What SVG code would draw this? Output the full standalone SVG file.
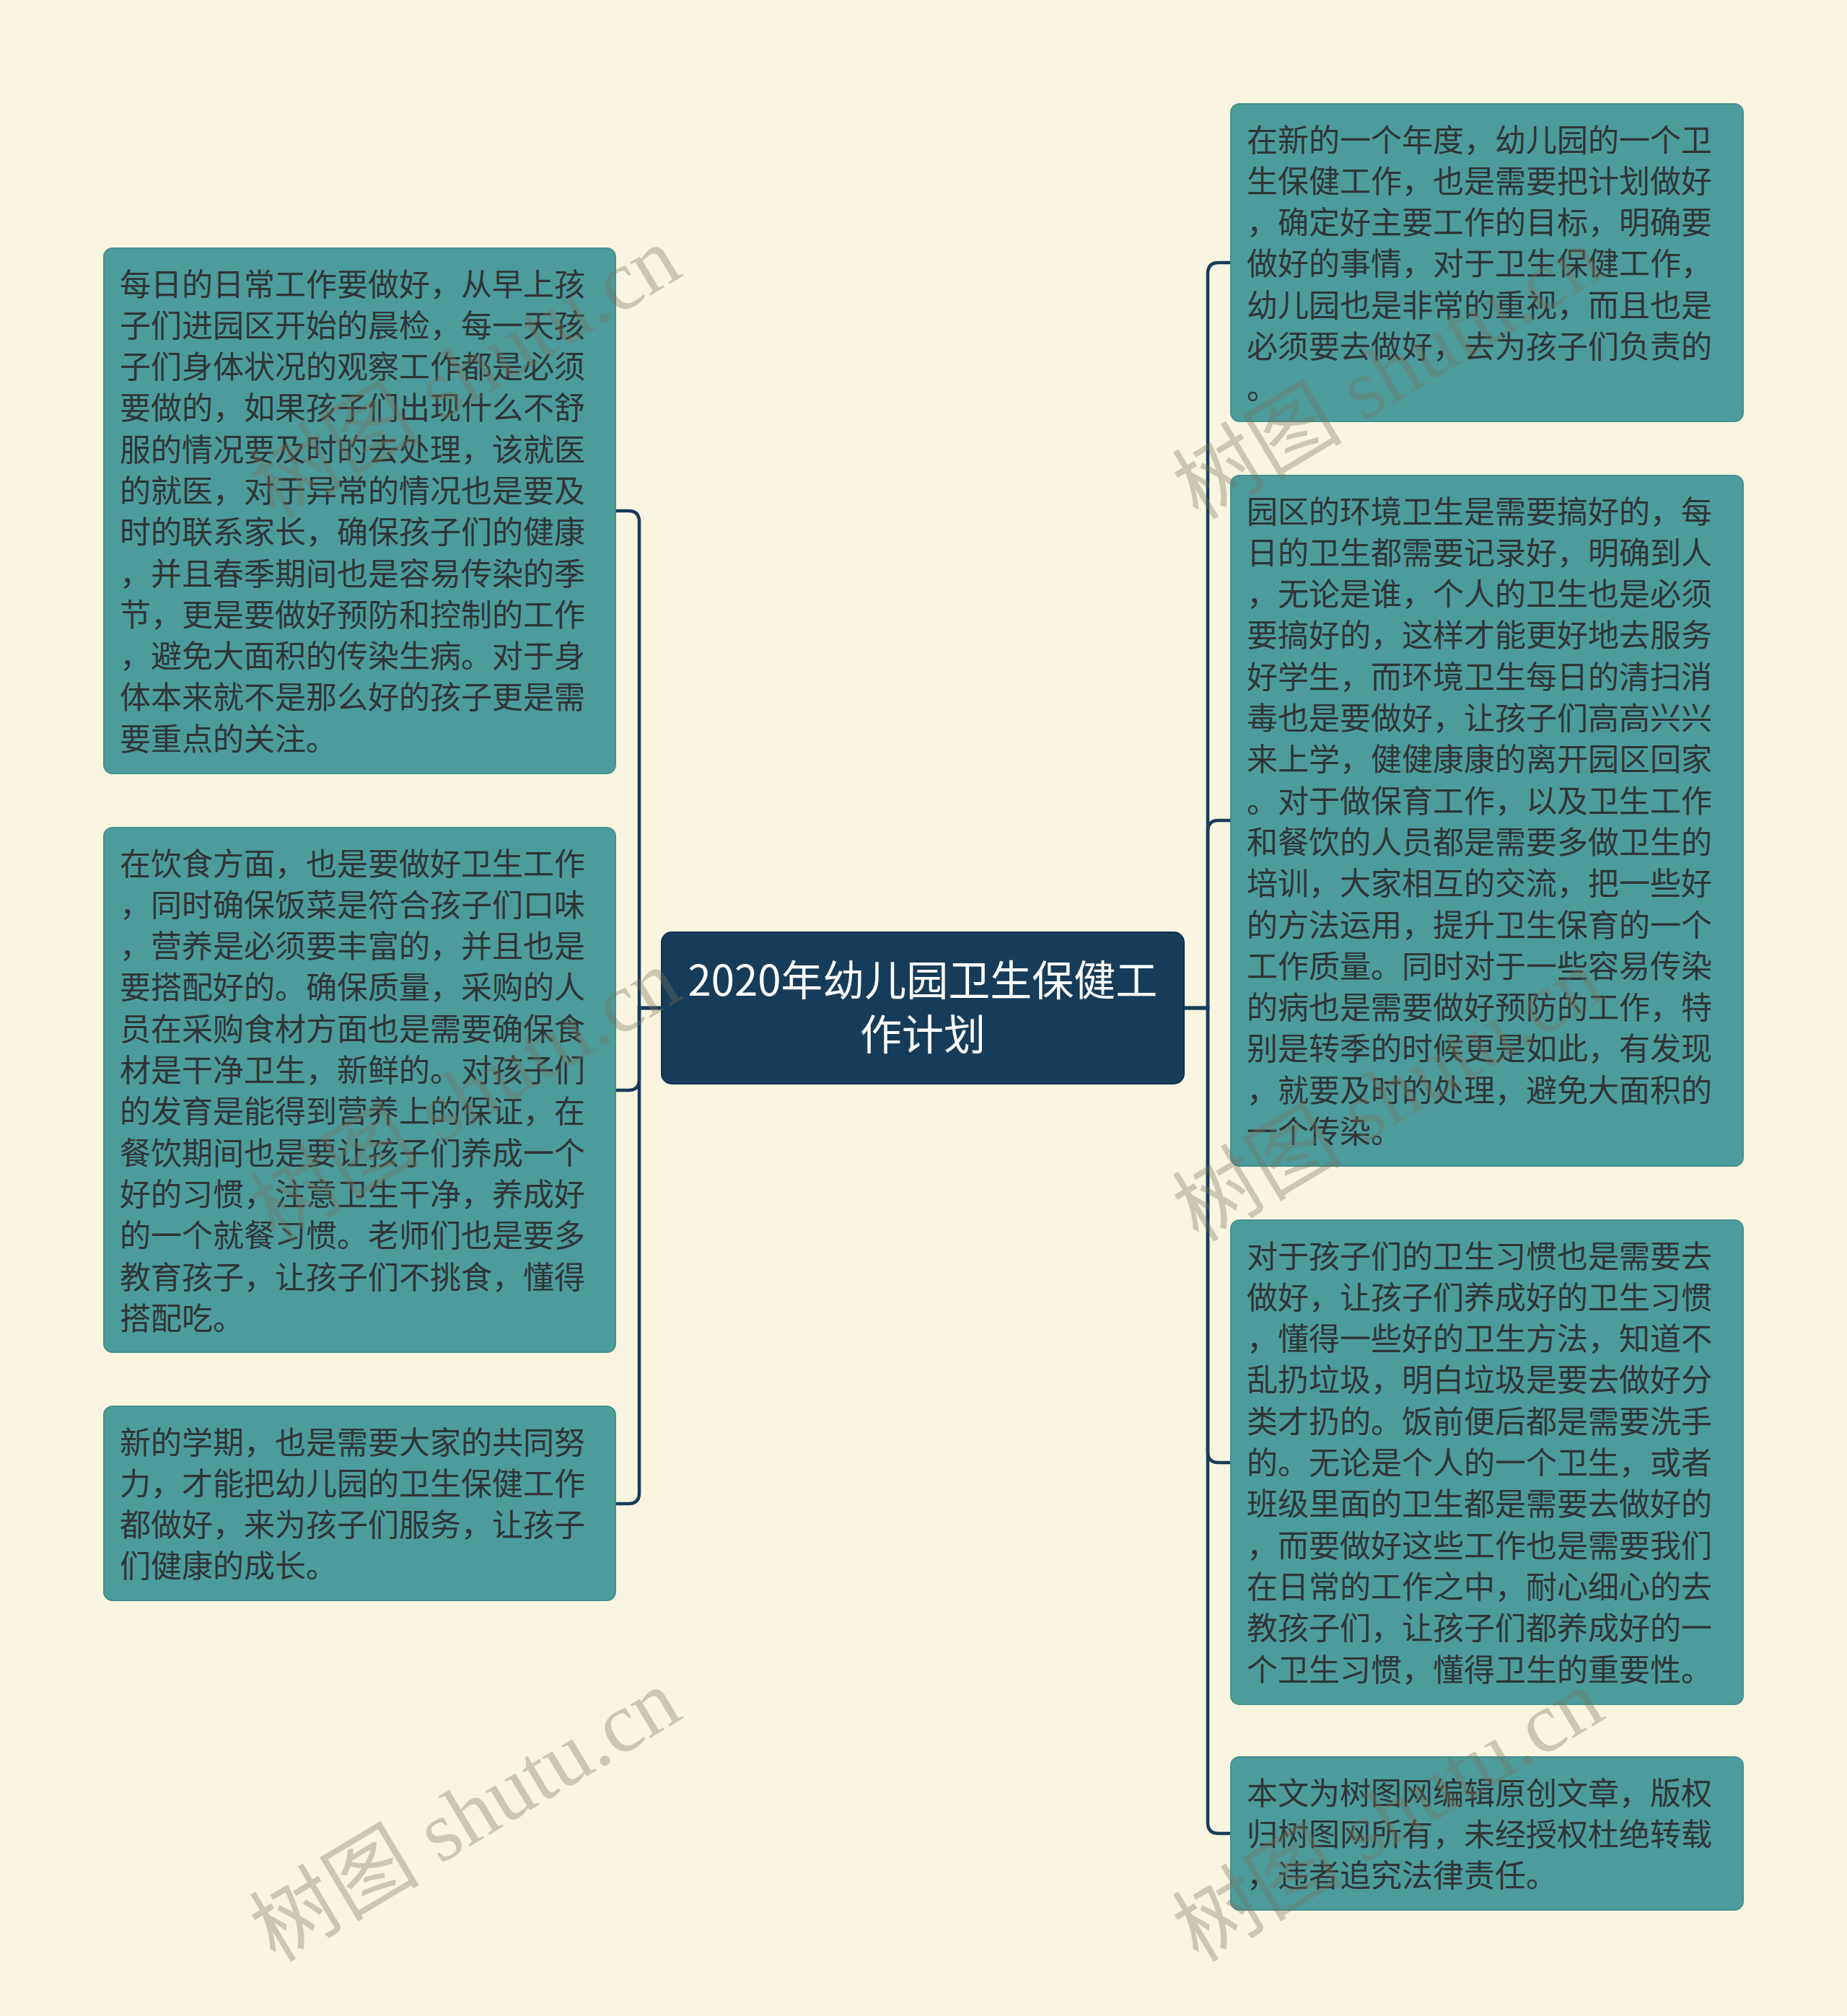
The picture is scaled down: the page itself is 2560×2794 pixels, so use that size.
<svg xmlns="http://www.w3.org/2000/svg" width="2560" height="2794" viewBox="0 0 2560 2794">
<style>
.bg{fill:#f9f5e1}
.node rect{fill:#4d9c9c;stroke:#44908f;stroke-width:2}
.node text{font-family:"Noto Sans CJK SC","Noto Sans",sans-serif;font-size:43px;fill:#2f3535}
.root rect{fill:#173c5a;stroke:#10304a;stroke-width:2}
.root text{font-family:"Noto Sans CJK SC","Noto Sans",sans-serif;font-size:58px;fill:#ffffff;text-anchor:middle}
.links path{fill:none;stroke:#173c5a;stroke-width:4.5}
.wm{font-family:"Liberation Serif","Noto Sans CJK SC",serif;font-size:118px;fill:#78735a;opacity:0.35;text-anchor:middle}
</style>
<rect class="bg" x="0" y="0" width="2560" height="2794"/>
<g class="links" id="connectors">
<path d="M917,1397 H886 V723 Q886,708 871,708 H853"/>
<path d="M917,1397 H886 V1496 Q886,1511 871,1511 H853"/>
<path d="M917,1397 H886 V2069 Q886,2084 871,2084 H853"/>
<path d="M1641,1397 H1674 V379 Q1674,364 1689,364 H1706"/>
<path d="M1641,1397 H1674 V1152 Q1674,1137 1689,1137 H1706"/>
<path d="M1641,1397 H1674 V2012 Q1674,2027 1689,2027 H1706"/>
<path d="M1641,1397 H1674 V2526 Q1674,2541 1689,2541 H1706"/>
</g>
<g class="root" id="root">
<rect x="917" y="1292" width="724" height="210" rx="14"/>
<text x="1279" y="1380"><tspan x="1279">2020年幼儿园卫生保健工</tspan><tspan x="1279" dy="75">作计划</tspan></text>
</g>
<g class="node" id="left1">
<rect x="144" y="344" width="709" height="728" rx="12"/>
<text x="166" y="409.5"><tspan x="166">每日的日常工作要做好，从早上孩</tspan><tspan x="166" dy="57.3">子们进园区开始的晨检，每一天孩</tspan><tspan x="166" dy="57.3">子们身体状况的观察工作都是必须</tspan><tspan x="166" dy="57.3">要做的，如果孩子们出现什么不舒</tspan><tspan x="166" dy="57.3">服的情况要及时的去处理，该就医</tspan><tspan x="166" dy="57.3">的就医，对于异常的情况也是要及</tspan><tspan x="166" dy="57.3">时的联系家长，确保孩子们的健康</tspan><tspan x="166" dy="57.3">，并且春季期间也是容易传染的季</tspan><tspan x="166" dy="57.3">节，更是要做好预防和控制的工作</tspan><tspan x="166" dy="57.3">，避免大面积的传染生病。对于身</tspan><tspan x="166" dy="57.3">体本来就不是那么好的孩子更是需</tspan><tspan x="166" dy="57.3">要重点的关注。</tspan></text>
</g>
<g class="node" id="left2">
<rect x="144" y="1147" width="709" height="727" rx="12"/>
<text x="166" y="1212.5"><tspan x="166">在饮食方面，也是要做好卫生工作</tspan><tspan x="166" dy="57.3">，同时确保饭菜是符合孩子们口味</tspan><tspan x="166" dy="57.3">，营养是必须要丰富的，并且也是</tspan><tspan x="166" dy="57.3">要搭配好的。确保质量，采购的人</tspan><tspan x="166" dy="57.3">员在采购食材方面也是需要确保食</tspan><tspan x="166" dy="57.3">材是干净卫生，新鲜的。对孩子们</tspan><tspan x="166" dy="57.3">的发育是能得到营养上的保证，在</tspan><tspan x="166" dy="57.3">餐饮期间也是要让孩子们养成一个</tspan><tspan x="166" dy="57.3">好的习惯，注意卫生干净，养成好</tspan><tspan x="166" dy="57.3">的一个就餐习惯。老师们也是要多</tspan><tspan x="166" dy="57.3">教育孩子，让孩子们不挑食，懂得</tspan><tspan x="166" dy="57.3">搭配吃。</tspan></text>
</g>
<g class="node" id="left3">
<rect x="144" y="1949" width="709" height="269" rx="12"/>
<text x="166" y="2014.5"><tspan x="166">新的学期，也是需要大家的共同努</tspan><tspan x="166" dy="57.3">力，才能把幼儿园的卫生保健工作</tspan><tspan x="166" dy="57.3">都做好，来为孩子们服务，让孩子</tspan><tspan x="166" dy="57.3">们健康的成长。</tspan></text>
</g>
<g class="node" id="right1">
<rect x="1706" y="144" width="710" height="440" rx="12"/>
<text x="1728" y="209.5"><tspan x="1728">在新的一个年度，幼儿园的一个卫</tspan><tspan x="1728" dy="57.3">生保健工作，也是需要把计划做好</tspan><tspan x="1728" dy="57.3">，确定好主要工作的目标，明确要</tspan><tspan x="1728" dy="57.3">做好的事情，对于卫生保健工作，</tspan><tspan x="1728" dy="57.3">幼儿园也是非常的重视，而且也是</tspan><tspan x="1728" dy="57.3">必须要去做好，去为孩子们负责的</tspan><tspan x="1728" dy="57.3">。</tspan></text>
</g>
<g class="node" id="right2">
<rect x="1706" y="659" width="710" height="957" rx="12"/>
<text x="1728" y="724.5"><tspan x="1728">园区的环境卫生是需要搞好的，每</tspan><tspan x="1728" dy="57.3">日的卫生都需要记录好，明确到人</tspan><tspan x="1728" dy="57.3">，无论是谁，个人的卫生也是必须</tspan><tspan x="1728" dy="57.3">要搞好的，这样才能更好地去服务</tspan><tspan x="1728" dy="57.3">好学生，而环境卫生每日的清扫消</tspan><tspan x="1728" dy="57.3">毒也是要做好，让孩子们高高兴兴</tspan><tspan x="1728" dy="57.3">来上学，健健康康的离开园区回家</tspan><tspan x="1728" dy="57.3">。对于做保育工作，以及卫生工作</tspan><tspan x="1728" dy="57.3">和餐饮的人员都是需要多做卫生的</tspan><tspan x="1728" dy="57.3">培训，大家相互的交流，把一些好</tspan><tspan x="1728" dy="57.3">的方法运用，提升卫生保育的一个</tspan><tspan x="1728" dy="57.3">工作质量。同时对于一些容易传染</tspan><tspan x="1728" dy="57.3">的病也是需要做好预防的工作，特</tspan><tspan x="1728" dy="57.3">别是转季的时候更是如此，有发现</tspan><tspan x="1728" dy="57.3">，就要及时的处理，避免大面积的</tspan><tspan x="1728" dy="57.3">一个传染。</tspan></text>
</g>
<g class="node" id="right3">
<rect x="1706" y="1691" width="710" height="671" rx="12"/>
<text x="1728" y="1756.5"><tspan x="1728">对于孩子们的卫生习惯也是需要去</tspan><tspan x="1728" dy="57.3">做好，让孩子们养成好的卫生习惯</tspan><tspan x="1728" dy="57.3">，懂得一些好的卫生方法，知道不</tspan><tspan x="1728" dy="57.3">乱扔垃圾，明白垃圾是要去做好分</tspan><tspan x="1728" dy="57.3">类才扔的。饭前便后都是需要洗手</tspan><tspan x="1728" dy="57.3">的。无论是个人的一个卫生，或者</tspan><tspan x="1728" dy="57.3">班级里面的卫生都是需要去做好的</tspan><tspan x="1728" dy="57.3">，而要做好这些工作也是需要我们</tspan><tspan x="1728" dy="57.3">在日常的工作之中，耐心细心的去</tspan><tspan x="1728" dy="57.3">教孩子们，让孩子们都养成好的一</tspan><tspan x="1728" dy="57.3">个卫生习惯，懂得卫生的重要性。</tspan></text>
</g>
<g class="node" id="right4">
<rect x="1706" y="2435" width="710" height="212" rx="12"/>
<text x="1728" y="2500.5"><tspan x="1728">本文为树图网编辑原创文章，版权</tspan><tspan x="1728" dy="57.3">归树图网所有，未经授权杜绝转载</tspan><tspan x="1728" dy="57.3">，违者追究法律责任。</tspan></text>
</g>
<g id="watermarks">
<text class="wm" x="0" y="40" transform="translate(645,517) rotate(-31)">树图 shutu.cn</text>
<text class="wm" x="0" y="40" transform="translate(1924,517) rotate(-31)">树图 shutu.cn</text>
<text class="wm" x="0" y="40" transform="translate(645,1518) rotate(-31)">树图 shutu.cn</text>
<text class="wm" x="0" y="40" transform="translate(1924,1518) rotate(-31)">树图 shutu.cn</text>
<text class="wm" x="0" y="40" transform="translate(645,2516) rotate(-31)">树图 shutu.cn</text>
<text class="wm" x="0" y="40" transform="translate(1924,2516) rotate(-31)">树图 shutu.cn</text>
</g>
</svg>
